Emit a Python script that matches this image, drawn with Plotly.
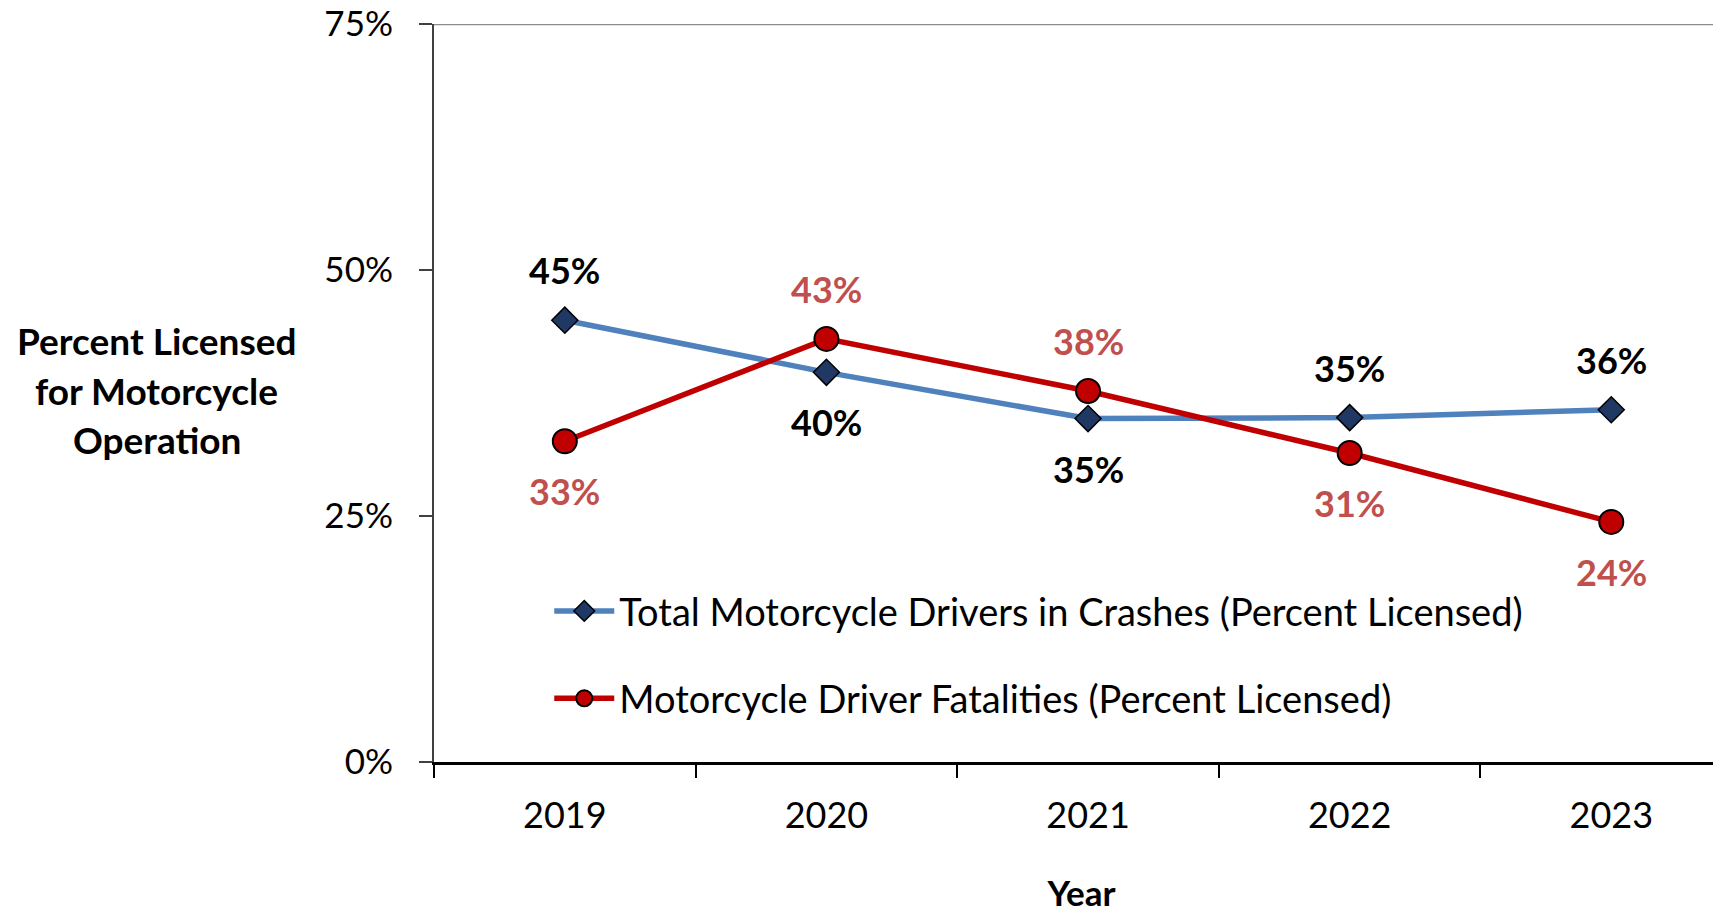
import plotly.graph_objects as go

# ---- data ----
years = ["2019", "2020", "2021", "2022", "2023"]
total_licensed = [44.9, 39.6, 34.9, 35.0, 35.8]
fatal_licensed = [32.6, 43.0, 37.7, 31.4, 24.4]
total_name = "Total Motorcycle Drivers in Crashes (Percent Licensed)"
fatal_name = "Motorcycle Driver Fatalities (Percent Licensed)"
y_ticks = [0, 25, 50, 75]

# ---- styles ----
FONT = "Lato"
total_label_side = [1, -1, -1, 1, 1]
fatal_label_side = [-1, 1, 1, -1, -1]

fig = go.Figure()
fig.add_trace(go.Scatter(
    x=years, y=total_licensed, name=total_name, mode="lines+markers",
    line=dict(color="#4F81BD", width=5.5),
    marker=dict(symbol="diamond", size=20, color="#1F3864",
                line=dict(color="#000000", width=1.5)),
    legendgroup="a",
))
fig.add_trace(go.Scatter(
    x=years, y=fatal_licensed, name=fatal_name, mode="lines+markers",
    line=dict(color="#C00000", width=5.5),
    marker=dict(symbol="circle", size=24, color="#C00000",
                line=dict(color="#000000", width=2)),
    legendgroup="b",
))

for i, (v, s) in enumerate(zip(total_licensed, total_label_side)):
    fig.add_annotation(x=i, y=v, xref="x", yref="y", text=f"{round(v)}%", showarrow=False,
                       yshift=50 * s,
                       font=dict(family=FONT, size=36, color="#000000", weight="bold"))
for i, (v, s) in enumerate(zip(fatal_licensed, fatal_label_side)):
    fig.add_annotation(x=i, y=v, xref="x", yref="y", text=f"{round(v)}%", showarrow=False,
                       yshift=50 * s,
                       font=dict(family=FONT, size=36, color="#C0504D", weight="bold"))

# y-axis title as horizontal text lines
for i, line in enumerate(["Percent Licensed", "for Motorcycle", "Operation"]):
    fig.add_annotation(xref="paper", yref="paper", x=-0.214, y=0.5705 - i * 0.067,
                       text=line, showarrow=False, xanchor="center", yanchor="middle",
                       font=dict(family=FONT, size=37, color="#000000", weight="bold"))

# top border
fig.add_shape(type="line", xref="paper", yref="y", x0=0, x1=1, y0=75, y1=75,
              line=dict(color="#8C8C8C", width=2.5))

fig.update_layout(
    width=1721, height=909,
    margin=dict(l=426, r=0, t=16, b=155, autoexpand=False),
    paper_bgcolor="white", plot_bgcolor="white",
    font=dict(family=FONT, size=36, color="#000000"),
    showlegend=True,
    legend=dict(x=0.089, y=0.247, xanchor="left", yanchor="top",
                bgcolor="rgba(0,0,0,0)", font=dict(family=FONT, size=38),
                tracegroupgap=35, traceorder="grouped", itemwidth=60),
    xaxis=dict(
        type="category", range=[-0.5, 4.45], automargin=False,
        showline=True, linecolor="#000000", linewidth=2.5,
        ticks="outside", tickson="boundaries", ticklen=13, tickcolor="#000000", tickwidth=1.5,
        showgrid=False, zeroline=False,
        tickfont=dict(family=FONT, size=36), ticklabelstandoff=20,
        title=dict(text="Year", font=dict(family=FONT, size=35, weight="bold"), standoff=47),
    ),
    yaxis=dict(
        range=[0, 75], tickvals=y_ticks, ticktext=[f"{t}%" for t in y_ticks],
        automargin=False,
        showline=True, linecolor="#404040", linewidth=2,
        ticks="outside", ticklen=13, tickcolor="#404040", tickwidth=1.5,
        showgrid=False, zeroline=False, ticklabeloverflow="allow",
        tickfont=dict(family=FONT, size=35), ticklabelstandoff=19,
    ),
)

fig.write_html("out.html")
